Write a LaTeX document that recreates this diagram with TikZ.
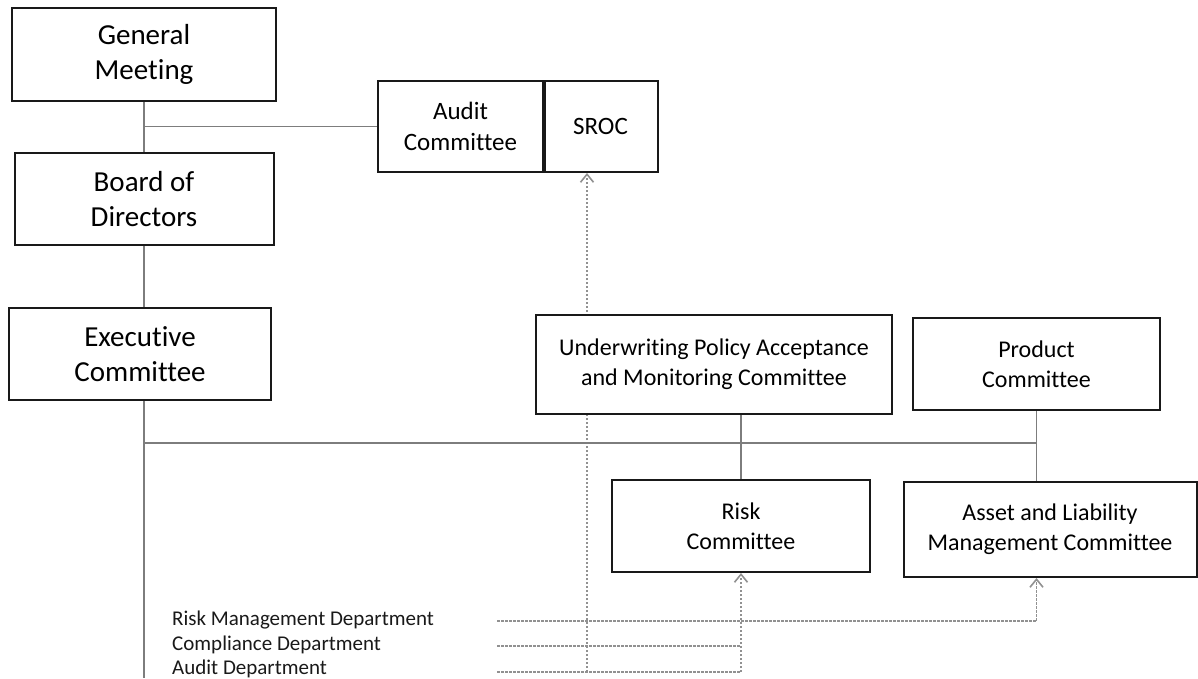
\documentclass[tikz,border=0pt]{standalone}
\usepackage{fontspec}
\setmainfont{Carlito}[Ligatures=CommonOff]
\usepackage{tikz}
\usetikzlibrary{arrows.meta, backgrounds}
\definecolor{boxline}{RGB}{25,25,25}
\definecolor{linkgray}{RGB}{125,125,125}
\definecolor{dashgray}{RGB}{145,145,145}
\tikzset{
  bigbox/.style={rectangle, draw=boxline, line width=2pt, fill=white,
    align=center, inner sep=0pt, font=\fontsize{29}{35}\selectfont},
  midbox/.style={rectangle, draw=boxline, line width=2pt, fill=white,
    align=center, inner sep=0pt, font=\fontsize{25}{31}\selectfont},
  smbox/.style={rectangle, draw=boxline, line width=2pt, fill=white,
    align=center, inner sep=0pt, font=\fontsize{24}{30}\selectfont},
  dept/.style={anchor=west, inner sep=0pt, text=boxline,
    font=\fontsize{21}{24}\selectfont},
  link/.style={draw=linkgray, line width=1.6pt},
  dashlink/.style={draw=dashgray, line width=1.6pt,
    dash pattern=on 2.5pt off 1.5pt,
    -{Straight Barb[length=8pt, width=13pt]}},
}

\begin{document}
\begin{tikzpicture}[x=1pt, y=-1pt]
  \useasboundingbox (0,0) rectangle (1198,678);

  % Governing bodies
  \node[bigbox, minimum width=264pt, minimum height=93pt] (gm)    at (144,54.5) {General\\Meeting};
  \node[bigbox, minimum width=259pt, minimum height=92pt] (board) at (144,199)  {Board of\\Directors};
  \node[bigbox, minimum width=262pt, minimum height=92pt] (exec)  at (140,354)  {Executive\\Committee};

  % Supervision
  \node[midbox, minimum width=165pt, minimum height=91pt] (audit) at (460.5,126.5) {Audit\\Committee};
  \node[midbox, minimum width=115pt, minimum height=91pt] (sroc)  at (600.5,126.5) {SROC};
  \draw[line width=3.5pt, boxline] (audit.north east) -- (audit.south east);

  % Committees
  \node[smbox, minimum width=356pt, minimum height=99pt] (uw)      at (714,364.5)  {Underwriting Policy Acceptance\\and Monitoring Committee};
  \node[smbox, minimum width=247pt, minimum height=92pt] (product) at (1036.5,364) {Product\\Committee};
  \node[smbox, minimum width=258pt, minimum height=92pt] (risk)    at (741,526)    {Risk\\Committee};
  \node[smbox, minimum width=293pt, minimum height=95pt] (alm)     at (1050,529.5) {Asset and Liability\\Management Committee};

  % Departments
  \node[dept] (rmd) at (172,620) {Risk Management Department};
  \node[dept] (cd)  at (172,645) {Compliance Department};
  \node[dept] (ad)  at (172,669) {Audit Department};

  \coordinate (hub)      at (144,443);
  \coordinate (spineEnd) at (144,678);
  \coordinate (rmdEnd)   at (497,621);
  \coordinate (cdEnd)    at (497,646);
  \coordinate (adEnd)    at (497,672);
  \coordinate (srocTap)  at (587,672);

  % Solid links
  \draw[link] (gm.south) -- (board.north);
  \draw[link] (gm.south |- audit.west) -- (audit.west);
  \draw[link] (board.south) -- (board.south |- exec.north);
  \draw[link] (board.south |- exec.south) -- (spineEnd);
  \draw[link] (hub) -- (hub -| product.south);
  \draw[link] (uw.south -| risk.north) -- (risk.north);
  \draw[link] (product.south) -- (product.south |- alm.north);

  % Reporting lines
  \begin{scope}[on background layer]
    \draw[dashlink] (rmdEnd) -| (product.south |- alm.south);
    \draw[dashlink, -] (cdEnd) -- (cdEnd -| risk.south);
    \draw[dashlink] (adEnd) -| (risk.south);
    \draw[dashlink] (srocTap) -- (srocTap |- sroc.south);
  \end{scope}
\end{tikzpicture}
\end{document}
